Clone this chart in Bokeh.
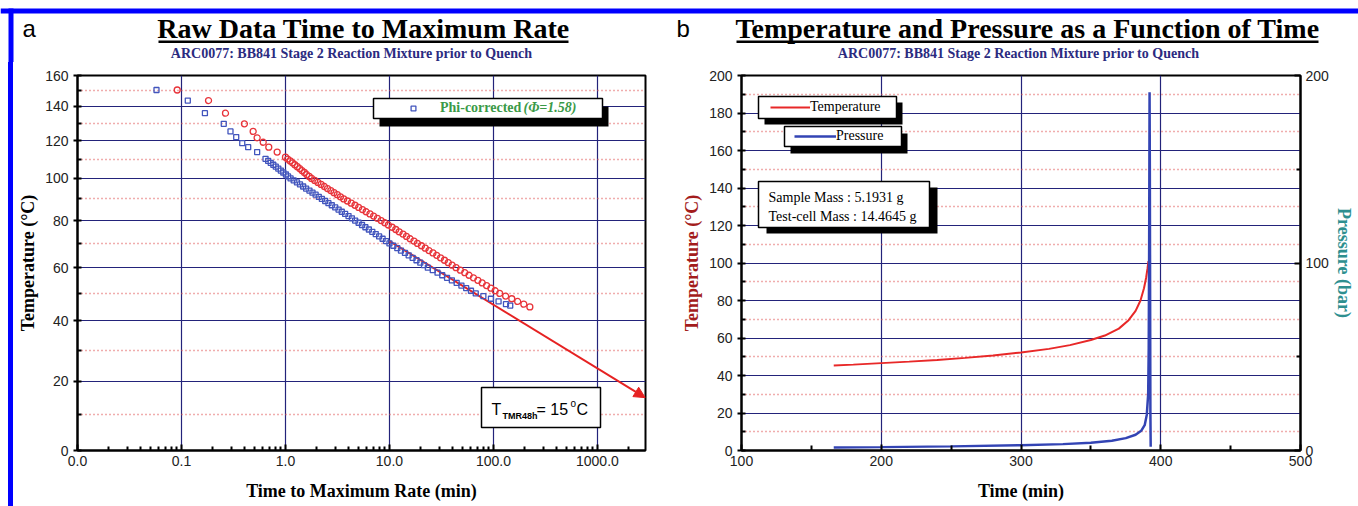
import math
from bokeh.plotting import figure
from bokeh.layouts import row, column
from bokeh.models import (Range1d, LinearAxis, FixedTicker, CustomJSTickFormatter, Div,
                          Label, BoxAnnotation, Legend, LegendItem, Arrow, NormalHead)
from bokeh.embed import file_html
from bokeh.resources import INLINE

# ---------------- panel a data (time to maximum rate) ----------------
raw_time = [0.091, 0.182, 0.265, 0.403, 0.489, 0.534, 0.611, 0.691, 0.832, 1.00,
            1.05, 1.11, 1.17, 1.23, 1.30, 1.37, 1.44, 1.52, 1.60, 1.69, 1.78,
            1.91, 2.05, 2.20, 2.37, 2.54, 2.73, 2.93, 3.15, 3.38, 3.63,
            3.94, 4.29, 4.66, 5.06, 5.50, 5.97, 6.49, 7.05, 7.66, 8.32,
            9.02, 9.77, 10.6, 11.5, 12.4, 13.5, 14.6, 15.8, 17.2, 18.6,
            20.3, 22.1, 24.0, 26.2, 28.5, 31.0, 33.8, 36.8, 40.1, 43.7,
            48.1, 53.0, 58.3, 64.3, 70.8, 78.0, 85.9, 94.6, 104, 115,
            131, 150, 171, 196, 224]
raw_temp = [150.4, 143.7, 135.9, 129.6, 125.2, 121.6, 119.1, 116.4, 113.7, 111.0,
            110, 109, 108, 107, 106, 105, 104, 103, 102, 101, 100,
            99, 98, 97, 96, 95, 94, 93, 92, 91, 90,
            89, 88, 87, 86, 85, 84, 83, 82, 81, 80,
            79, 78, 77, 76, 75, 74, 73, 72, 71, 70,
            69, 68, 67, 66, 65, 64, 63, 62, 61, 60,
            59, 58, 57, 56, 55, 54, 53, 52, 51, 50,
            49, 48, 47, 46, 45]

phi_time = [0.0575, 0.115, 0.168, 0.255, 0.296, 0.336, 0.384, 0.438, 0.534, 0.643,
            0.682, 0.721, 0.764, 0.807, 0.853, 0.902, 0.953, 1.01, 1.06, 1.12,
            1.20, 1.29, 1.38, 1.48, 1.58, 1.70, 1.82, 1.95, 2.09, 2.24,
            2.41, 2.59, 2.79, 3.01, 3.24, 3.48, 3.75, 4.04, 4.35, 4.68,
            5.05, 5.45, 5.87, 6.34, 6.84, 7.38, 7.96, 8.59, 9.27, 10.0,
            10.9, 11.9, 12.9, 14.1, 15.3, 16.7, 18.2, 19.8, 21.5, 23.4,
            26.1, 29.0, 32.2, 35.8, 39.8, 44.3, 49.2, 54.7, 60.8, 67.6,
            80.0, 94.6, 112, 132, 145]
phi_temp = [150.4, 143.7, 135.9, 129.6, 125.2, 122.0, 118.6, 116.4, 113.7, 110.1,
            109, 108, 107, 106, 105, 104, 103, 102, 101, 100,
            99, 98, 97, 96, 95, 94, 93, 92, 91, 90,
            89, 88, 87, 86, 85, 84, 83, 82, 81, 80,
            79, 78, 77, 76, 75, 74, 73, 72, 71, 70,
            69, 68, 67, 66, 65, 64, 63, 62, 61, 60,
            59, 58, 57, 56, 55, 54, 53, 52, 51, 50,
            49, 48, 47, 46, 45.5]

fit_time = [10.0, 2880.0]
fit_temp = [71.0, 15.0]

a_temp_ticks = [0, 20, 40, 60, 80, 100, 120, 140, 160]
a_temp_minor = [10, 30, 50, 70, 90, 110, 130, 150]
a_time_ticks = [0.01, 0.1, 1, 10, 100, 1000]
a_time_minor = [0.02, 0.03, 0.04, 0.05, 0.06, 0.07, 0.08, 0.09,
                0.2, 0.3, 0.4, 0.5, 0.6, 0.7, 0.8, 0.9,
                2, 3, 4, 5, 6, 7, 8, 9,
                20, 30, 40, 50, 60, 70, 80, 90,
                200, 300, 400, 500, 600, 700, 800, 900, 2000]

# ---------------- panel b data (temperature & pressure vs time) ----------------
temp_time = [166, 180, 200, 220, 240, 260, 280, 300, 320, 335, 350, 360, 370, 377,
             382, 385.5, 388, 389.5, 390.5, 391.2]
temp_val = [45.3, 45.8, 46.6, 47.4, 48.3, 49.4, 50.7, 52.3, 54.2, 56.2, 58.9, 61.3,
            65.0, 69.5, 74.5, 80.0, 86.5, 92.0, 97.0, 101.0]
pres_time = [166, 200, 250, 300, 330, 350, 365, 375, 382, 386, 388.5, 390, 391,
             391.4, 391.7, 392.0, 392.2, 392.4, 392.6, 392.8]
pres_val = [1.6, 1.8, 2.2, 2.8, 3.4, 4.1, 5.2, 6.6, 8.4, 10.5, 13.5, 19, 30, 55,
            110, 191, 150, 80, 20, 2]
b_time_ticks = [100, 200, 300, 400, 500]
b_time_minor = [150, 250, 350, 450]
b_temp_ticks = [0, 20, 40, 60, 80, 100, 120, 140, 160, 180, 200]
b_temp_minor = [10, 30, 50, 70, 90, 110, 130, 150, 170, 190]
b_pres_ticks = [0, 100, 200]
b_pres_minor = [50, 150]

# ---------------- styling ----------------
NAVY = "#23237a"
DOT = "#e05a5a"
RED = "#e8343a"
BLUE = "#4255bd"
GREEN = "#3a9a48"
FRAME_BLUE = "#0000ff"
SERIF = "Liberation Serif"
SANS = "Liberation Sans"


def arr(t):
    # Arrhenius-type temperature axis (-1000/T[K])
    return -1000.0 / (t + 273.15)


def style_axis(ax, label, color="black"):
    ax.axis_label = label
    ax.axis_label_text_font = SERIF
    ax.axis_label_text_font_style = "bold"
    ax.axis_label_text_font_size = "18px"
    ax.axis_label_text_color = color
    ax.major_label_text_font = SANS
    ax.major_label_text_font_size = "14px"
    ax.major_label_text_color = "#222222"
    ax.axis_line_color = "black"
    ax.axis_line_width = 2
    ax.major_tick_line_color = "black"
    ax.minor_tick_line_color = "black"
    ax.major_tick_line_width = 2
    ax.minor_tick_line_width = 2


def box(p, l, r, t, b, fill, line=None, lw=1.5, units="screen"):
    bx = BoxAnnotation(left=l, right=r, top=t, bottom=b,
                       left_units=units, right_units=units,
                       top_units=units, bottom_units=units,
                       fill_color=fill, fill_alpha=1.0,
                       line_color=line, line_alpha=1.0 if line else 0.0,
                       line_width=lw, level="annotation")
    p.add_layout(bx)


def lab(p, x, y, text, size, font=SERIF, style="normal", color="black", align="left",
        units="screen"):
    p.add_layout(Label(x=x, y=y, x_units=units, y_units=units, text=text,
                       text_font=font, text_font_size=size, text_font_style=style,
                       text_color=color, text_align=align, text_baseline="alphabetic"))


def blank(w, h):
    f = figure(width=w, height=h, x_range=Range1d(0, w), y_range=Range1d(h, 0),
               x_axis_location=None, y_axis_location=None,
               output_backend="svg", toolbar_location=None,
               min_border=0, min_border_left=0, min_border_right=0,
               min_border_top=0, min_border_bottom=0)
    f.grid.visible = False
    f.outline_line_color = None
    f.background_fill_color = "white"
    f.border_fill_color = "white"
    return f


# ================= header strip (titles) =================
head = blank(1358, 62)
box(head, 0, 1358, 8, 13, FRAME_BLUE, units="data")
box(head, 8, 13, 8, 62, FRAME_BLUE, units="data")
lab(head, 22, 28, "a", "24px", font=SANS, units="data")
lab(head, 363, 28, "Raw Data Time to Maximum Rate", "28px", style="bold",
    align="center", units="data")
box(head, 158, 568, 40, 42.5, "black", units="data")
lab(head, 351, 53, "ARC0077: BB841 Stage 2 Reaction Mixture prior to Quench", "14px",
    style="bold", color="#2b2b80", align="center", units="data")
lab(head, 676, 28, "b", "24px", font=SANS, units="data")
lab(head, 1027, 28, "Temperature and Pressure as a Function of Time", "28px",
    style="bold", align="center", units="data")
box(head, 736, 1318, 40, 42.5, "black", units="data")
lab(head, 1018, 53, "ARC0077: BB841 Stage 2 Reaction Mixture prior to Quench", "14px",
    style="bold", color="#2b2b80", align="center", units="data")

side = Div(text='<div style="margin-left:8px;width:5px;height:444px;background:#0000ff"></div>',
           width=13, height=444, margin=0)

# ================= panel a =================
p1 = figure(width=666, height=444, x_axis_type="log",
            x_range=Range1d(0.01, 2900), y_range=Range1d(arr(0), arr(160)),
            output_backend="svg", toolbar_location=None,
            min_border_left=64, min_border_right=34, min_border_top=13, min_border_bottom=56)
p1.background_fill_color = "white"
p1.border_fill_color = "white"
p1.outline_line_color = "black"
p1.outline_line_width = 2

p1.xaxis.ticker = FixedTicker(ticks=a_time_ticks, minor_ticks=a_time_minor)
p1.xaxis.formatter = CustomJSTickFormatter(code="return tick.toFixed(1);")
p1.yaxis.ticker = FixedTicker(ticks=[arr(t) for t in a_temp_ticks],
                              minor_ticks=[arr(t) for t in a_temp_minor])
p1.yaxis.formatter = CustomJSTickFormatter(code="return Math.round(-1000/tick - 273.15).toString();")
style_axis(p1.xaxis[0], "Time to Maximum Rate (min)")
style_axis(p1.yaxis[0], "Temperature (°C)")
p1.xaxis.major_tick_in = 6
p1.xaxis.major_tick_out = 0
p1.xaxis.minor_tick_in = 4
p1.xaxis.minor_tick_out = 0
p1.yaxis.major_tick_in = 4
p1.yaxis.major_tick_out = 4
p1.yaxis.minor_tick_in = 4
p1.yaxis.minor_tick_out = 0
p1.xaxis.axis_label_standoff = 12
p1.yaxis.axis_label_standoff = 4

p1.xgrid.grid_line_color = NAVY
p1.xgrid.grid_line_width = 1.2
p1.ygrid.grid_line_color = NAVY
p1.ygrid.grid_line_width = 1.2
p1.ygrid.minor_grid_line_color = DOT
p1.ygrid.minor_grid_line_dash = "1 3"
p1.ygrid.minor_grid_line_width = 1.4

p1.add_layout(Arrow(x_start=fit_time[0], y_start=arr(fit_temp[0]),
                    x_end=fit_time[1], y_end=arr(fit_temp[1]),
                    line_color="#e62222", line_width=2, level="underlay",
                    end=NormalHead(size=11, fill_color="#e62222", line_color="#e62222")))
r_raw = p1.scatter(raw_time, [arr(t) for t in raw_temp], marker="circle", size=6,
                   fill_color=None, line_color=RED, line_width=1.3)
r_phi = p1.scatter(phi_time, [arr(t) for t in phi_temp], marker="square", size=5,
                   fill_color=None, line_color=BLUE, line_width=1.3)

# legend panel a (frame-relative screen px)
box(p1, 302, 531, 344, 324, "black")
box(p1, 296, 525, 352, 332, "white", "black", 1.5)
leg1 = Legend(items=[LegendItem(label="Phi-corrected", renderers=[r_phi])],
              location=(330, 332), padding=0, margin=0, spacing=0,
              glyph_width=12, glyph_height=12, label_height=20, label_standoff=21,
              label_text_font=SERIF, label_text_font_style="bold",
              label_text_font_size="14px", label_text_color=GREEN,
              background_fill_alpha=0, border_line_alpha=0)
p1.add_layout(leg1)
lab(p1, 446, 343, "(Φ=1.58)", "14px", style="bold italic", color=GREEN)

# TMR box
box(p1, 404, 523, 63, 23, "white", "black", 1.5)
lab(p1, 414, 41, "T", "16px", font=SANS)
lab(p1, 425, 35, "TMR48h", "9px", font=SANS, style="bold")
lab(p1, 459, 41, "= 15", "16px", font=SANS)
lab(p1, 493, 47, "o", "10px", font=SANS)
lab(p1, 499, 41, "C", "16px", font=SANS)

# ================= panel b =================
p2 = figure(width=679, height=444, x_range=Range1d(100, 500), y_range=Range1d(0, 200),
            output_backend="svg", toolbar_location=None,
            min_border_left=56, min_border_right=58, min_border_top=13, min_border_bottom=56)
p2.extra_y_ranges = {"pres": Range1d(0, 200)}
p2.background_fill_color = "white"
p2.border_fill_color = "white"
p2.outline_line_color = "black"
p2.outline_line_width = 2

p2.xaxis.ticker = FixedTicker(ticks=b_time_ticks, minor_ticks=b_time_minor)
p2.yaxis.ticker = FixedTicker(ticks=b_temp_ticks, minor_ticks=b_temp_minor)
style_axis(p2.xaxis[0], "Time (min)")
style_axis(p2.yaxis[0], "Temperature (°C)", color="#a31c1c")
p2.xaxis.major_tick_in = 6
p2.xaxis.major_tick_out = 0
p2.xaxis.minor_tick_in = 5
p2.xaxis.minor_tick_out = 0
p2.yaxis.major_tick_in = 4
p2.yaxis.major_tick_out = 4
p2.yaxis.minor_tick_in = 4
p2.yaxis.minor_tick_out = 0
p2.xaxis.axis_label_standoff = 12
p2.yaxis.axis_label_standoff = 4

pax = LinearAxis(y_range_name="pres",
                 ticker=FixedTicker(ticks=b_pres_ticks, minor_ticks=b_pres_minor))
style_axis(pax, "Pressure (bar)", color="#2e8f8f")
pax.major_tick_in = 6
pax.major_tick_out = 0
pax.minor_tick_in = 4
pax.minor_tick_out = 0
pax.axis_label_standoff = 2
p2.add_layout(pax, "right")

p2.xgrid.grid_line_color = NAVY
p2.xgrid.grid_line_width = 1.2
p2.ygrid.grid_line_color = NAVY
p2.ygrid.grid_line_width = 1.2
p2.ygrid.minor_grid_line_color = DOT
p2.ygrid.minor_grid_line_dash = "1 3"
p2.ygrid.minor_grid_line_width = 1.4

r_t = p2.line(temp_time, temp_val, line_color="#e82828", line_width=2)
r_p = p2.line(pres_time, pres_val, y_range_name="pres", line_color="#3344b4", line_width=2.5)

# legends panel b
box(p2, 23, 161, 348, 326, "black")
box(p2, 17, 155, 354, 332, "white", "black", 1.5)
box(p2, 49, 166, 317, 297, "black")
box(p2, 43, 160, 324, 304, "white", "black", 1.5)
common = dict(padding=0, margin=0, spacing=0, glyph_height=20,
              label_text_font=SERIF, label_text_font_size="14px", label_text_color="black",
              background_fill_alpha=0, border_line_alpha=0)
p2.add_layout(Legend(items=[LegendItem(label="Temperature", renderers=[r_t])],
                     location=(29, 333), glyph_width=40, label_standoff=0, **common))
p2.add_layout(Legend(items=[LegendItem(label="Pressure", renderers=[r_p])],
                     location=(53, 304), glyph_width=42, label_standoff=0, **common))

# sample info box
box(p2, 25, 196, 263, 217, "black")
box(p2, 17, 188, 269, 223, "white", "black", 1.5)
lab(p2, 27, 253, "Sample Mass : 5.1931 g", "14px")
lab(p2, 27, 234, "Test-cell Mass : 14.4645 g", "14px")

layout = column(head, row(side, p1, p2))
open("out.html", "w").write(file_html(layout, INLINE))
